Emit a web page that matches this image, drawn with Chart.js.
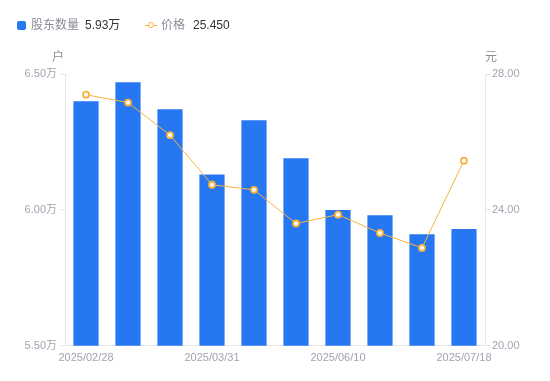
<!DOCTYPE html>
<html>
<head>
<meta charset="utf-8">
<script src="https://cdn.jsdelivr.net/npm/chart.js@4/dist/chart.umd.min.js"></script>
<style>
  html, body { margin: 0; padding: 0; background: #fff; }
  #wrap { position: relative; width: 550px; height: 381px; }
  canvas { position: absolute; left: 0; top: 0; }
  .lg { position: absolute; top: 17px; height: 16px; line-height: 16px; font-size: 12px; font-family: "Liberation Sans", "Noto Sans CJK SC", sans-serif; white-space: nowrap; }
  .lab { color: #8a8d99; }
  .val { color: #333; }
</style>
</head>
<body>
<div id="wrap">
  <canvas id="c" width="550" height="381"></canvas>
  <div class="lg" style="left:17px;">
    <span style="display:inline-block;width:9px;height:9px;background:#2777f2;border-radius:2px;vertical-align:-1px;margin-right:5px;"></span><span class="lab">股东数量</span><span class="val" style="margin-left:6px;">5.93万</span>
  </div>
  <div class="lg" style="left:145px;">
    <span style="display:inline-block;position:relative;width:12px;height:9px;vertical-align:-1px;margin-right:4px;">
      <span style="position:absolute;left:0;top:4px;width:12px;height:1px;background:#f9b33c;"></span>
      <span style="position:absolute;left:3px;top:1px;width:4px;height:4px;border:1.5px solid #f9b33c;border-radius:50%;background:#fff;"></span>
    </span><span class="lab">价格</span><span class="val" style="margin-left:8px;">25.450</span>
  </div>
</div>
<script>
const dates = ["2025/02/28", "2025/03/10", "2025/03/20", "2025/03/31", "2025/04/18", "2025/04/30", "2025/06/10", "2025/06/20", "2025/06/30", "2025/07/18"];
const holders = [6.40, 6.47, 6.37, 6.13, 6.33, 6.19, 6.00, 5.98, 5.91, 5.93];
const prices = [27.39, 27.16, 26.20, 24.74, 24.59, 23.60, 23.86, 23.32, 22.88, 25.45];
const leftTicks = [5.5, 6.0, 6.5];
const rightTicks = [20, 24, 28];

const FONT = "'Liberation Sans', 'Noto Sans CJK SC', sans-serif";
const TICK_COLOR = '#a0a3b1';
const AXIS_COLOR = '#e6e6ea';

const axisTitles = {
  id: 'axisTitles',
  afterDraw(chart) {
    const ctx = chart.ctx;
    const yl = chart.scales.y, yr = chart.scales.y1;
    ctx.save();
    ctx.font = '12px ' + FONT;
    ctx.fillStyle = '#8a8d99';
    ctx.textBaseline = 'middle';
    ctx.textAlign = 'right';
    ctx.fillText('户', yl.right - 1, chart.chartArea.top - 16);
    ctx.textAlign = 'left';
    ctx.fillText('元', yr.left, chart.chartArea.top - 16);
    ctx.restore();
  }
};

new Chart(document.getElementById('c'), {
  data: {
    labels: dates,
    datasets: [
      {
        type: 'line', label: '价格', data: prices, yAxisID: 'y1', order: 0,
        borderColor: '#f9b33c', borderWidth: 1, tension: 0,
        pointRadius: 3, pointBorderWidth: 1.8, pointBackgroundColor: '#fff', pointBorderColor: '#f9b33c'
      },
      {
        type: 'bar', label: '股东数量', data: holders, yAxisID: 'y', order: 1,
        backgroundColor: '#2777f2', barPercentage: 0.6, categoryPercentage: 1.0
      }
    ]
  },
  options: {
    responsive: false,
    animation: false,
    layout: { padding: { top: 74, bottom: 10, left: 0, right: 0 } },
    plugins: { legend: { display: false }, tooltip: { enabled: false } },
    scales: {
      x: {
        grid: { display: false, drawTicks: false },
        border: { display: true, color: AXIS_COLOR },
        ticks: {
          autoSkip: false, maxRotation: 0, padding: 6, color: TICK_COLOR,
          font: { size: 11, family: FONT },
          callback: (v, i) => (i % 3 === 0 ? dates[i] : '')
        }
      },
      y: {
        position: 'left', min: 5.5, max: 6.5,
        afterFit: s => { s.width = 65; },
        afterBuildTicks: s => { s.ticks = leftTicks.map(v => ({ value: v })); },
        grid: { drawOnChartArea: false, drawTicks: true, tickLength: 5, color: AXIS_COLOR },
        border: { color: AXIS_COLOR },
        ticks: { padding: 3, color: TICK_COLOR, font: { size: 11, family: FONT }, callback: v => v.toFixed(2) + '万' }
      },
      y1: {
        position: 'right', min: 20, max: 28,
        afterFit: s => { s.width = 65; },
        afterBuildTicks: s => { s.ticks = rightTicks.map(v => ({ value: v })); },
        grid: { drawOnChartArea: false, drawTicks: true, tickLength: 5, color: AXIS_COLOR },
        border: { color: AXIS_COLOR },
        ticks: { padding: 2, color: TICK_COLOR, font: { size: 11, family: FONT }, callback: v => v.toFixed(2) }
      }
    }
  },
  plugins: [axisTitles]
});
</script>
</body>
</html>
